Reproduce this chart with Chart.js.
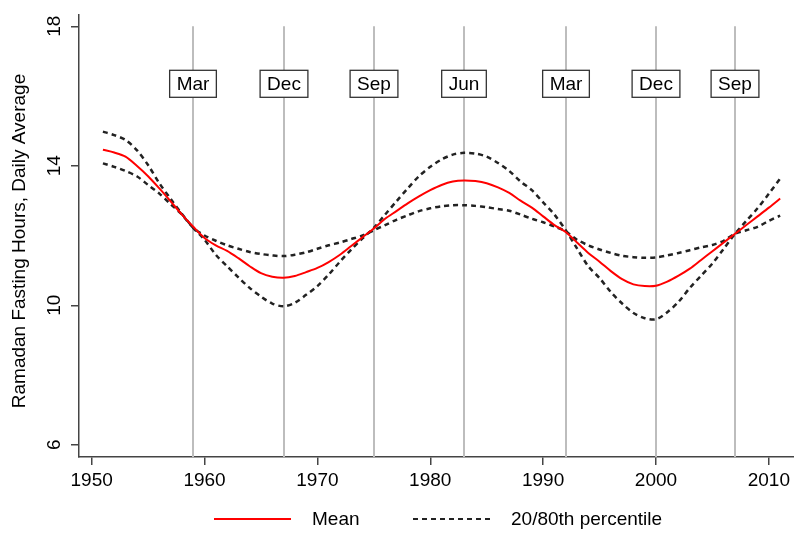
<!DOCTYPE html>
<html>
<head>
<meta charset="utf-8">
<script src="https://cdn.jsdelivr.net/npm/chart.js@4/dist/chart.umd.min.js"></script>
<style>
  html, body { margin: 0; padding: 0; background: #fff; }
  #c { display: block; }
</style>
</head>
<body>
<canvas id="c" width="794" height="533"></canvas>
<script>
// years of observation
const years = [1951, 1952, 1953, 1954, 1955, 1956, 1957, 1958, 1959, 1960,
  1961, 1962, 1963, 1964, 1965, 1966, 1967, 1968, 1969, 1970,
  1971, 1972, 1973, 1974, 1975, 1976, 1977, 1978, 1979, 1980,
  1981, 1982, 1983, 1984, 1985, 1986, 1987, 1988, 1989, 1990,
  1991, 1992, 1993, 1994, 1995, 1996, 1997, 1998, 1999, 2000,
  2001, 2002, 2003, 2004, 2005, 2006, 2007, 2008, 2009, 2010, 2011];

// mean fasting hours
const meanHours = [14.46, 14.38, 14.26, 14.0, 13.7, 13.35, 12.98, 12.6, 12.25, 11.93,
  11.72, 11.56, 11.35, 11.12, 10.92, 10.82, 10.79, 10.84, 10.95, 11.07,
  11.24, 11.45, 11.7, 11.95, 12.2, 12.48, 12.7, 12.92, 13.12, 13.3,
  13.45, 13.55, 13.58, 13.56, 13.5, 13.38, 13.22, 13.0, 12.8, 12.55,
  12.3, 12.1, 11.8, 11.5, 11.25, 10.98, 10.75, 10.6, 10.55, 10.56,
  10.68, 10.85, 11.05, 11.3, 11.55, 11.8, 12.05, 12.3, 12.55, 12.8, 13.06];

// 80th percentile
const p80Hours = [14.98, 14.88, 14.74, 14.45, 14.02, 13.5, 13.05, 12.62, 12.22, 11.88,
  11.45, 11.12, 10.8, 10.5, 10.25, 10.05, 9.97, 10.07, 10.3, 10.55,
  10.88, 11.25, 11.6, 11.92, 12.22, 12.6, 12.98, 13.35, 13.7, 13.97,
  14.18, 14.32, 14.37, 14.35, 14.26, 14.08, 13.85, 13.55, 13.3, 12.95,
  12.6, 12.15, 11.63, 11.12, 10.78, 10.38, 10.05, 9.78, 9.63, 9.6,
  9.8, 10.1, 10.5, 10.85, 11.2, 11.62, 12.05, 12.42, 12.78, 13.2, 13.63];

// 20th percentile
const p20Hours = [14.07, 13.97, 13.85, 13.7, 13.45, 13.2, 12.9, 12.6, 12.22, 12.0,
  11.85, 11.72, 11.62, 11.53, 11.47, 11.43, 11.41, 11.45, 11.52, 11.62,
  11.72, 11.8, 11.9, 12.0, 12.15, 12.3, 12.45, 12.58, 12.7, 12.78,
  12.84, 12.87, 12.87, 12.85, 12.81, 12.76, 12.71, 12.6, 12.48, 12.38,
  12.26, 12.12, 11.88, 11.72, 11.6, 11.5, 11.42, 11.38, 11.36, 11.37,
  11.43, 11.5, 11.58, 11.66, 11.73, 11.85, 12.05, 12.15, 12.25, 12.42, 12.57];

// month markers
const markerYears = [1959, 1967, 1975, 1983, 1992, 2000, 2007];
const markerLabels = ['Mar', 'Dec', 'Sep', 'Jun', 'Mar', 'Dec', 'Sep'];

const xTicks = [1950, 1960, 1970, 1980, 1990, 2000, 2010];
const yTicks = [6, 10, 14, 18];

const FONT = '"Liberation Sans", Arial, Helvetica, sans-serif';
const markerLineTop = 18;
const markerBoxAt = 16.35;

const toXY = (vals) => years.map((yr, i) => ({ x: yr, y: vals[i] }));

const overlay = {
  id: 'overlay',
  beforeDatasetsDraw(chart) {
    const { ctx, chartArea, scales } = chart;
    const x = scales.x, y = scales.y;
    ctx.save();
    ctx.strokeStyle = '#bdbdbd';
    ctx.lineWidth = 2;
    markerYears.forEach(yr => {
      const px = Math.round(x.getPixelForValue(yr));
      ctx.beginPath();
      ctx.moveTo(px, y.getPixelForValue(markerLineTop));
      ctx.lineTo(px, chartArea.bottom);
      ctx.stroke();
    });
    ctx.restore();
  },
  afterDraw(chart) {
    const { ctx, chartArea, scales } = chart;
    const x = scales.x, y = scales.y;
    ctx.save();
    // month boxes
    ctx.font = '19px ' + FONT;
    ctx.textAlign = 'center';
    ctx.textBaseline = 'middle';
    const by = y.getPixelForValue(markerBoxAt);
    markerYears.forEach((yr, i) => {
      const px = Math.round(x.getPixelForValue(yr));
      const w = ctx.measureText(markerLabels[i]).width + 14;
      const h = 27;
      ctx.fillStyle = '#fff';
      ctx.fillRect(px - w / 2, by - h / 2, w, h);
      ctx.strokeStyle = '#333';
      ctx.lineWidth = 1.3;
      ctx.strokeRect(px - w / 2, by - h / 2, w, h);
      ctx.fillStyle = '#000';
      ctx.fillText(markerLabels[i], px, by + 1);
    });

    // y tick labels, rotated
    yTicks.forEach(v => {
      ctx.save();
      ctx.translate(55, y.getPixelForValue(v));
      ctx.rotate(-Math.PI / 2);
      ctx.fillText(String(v), 0, 0);
      ctx.restore();
    });

    // y title
    ctx.save();
    ctx.translate(20, 241);
    ctx.rotate(-Math.PI / 2);
    ctx.fillText('Ramadan Fasting Hours, Daily Average', 0, 0);
    ctx.restore();

    // legend
    const ly = 519;
    ctx.textAlign = 'left';
    ctx.strokeStyle = '#ff0000';
    ctx.lineWidth = 2;
    ctx.beginPath();
    ctx.moveTo(214, ly);
    ctx.lineTo(291, ly);
    ctx.stroke();
    ctx.fillText(chart.data.datasets[0].label, 312, ly + 1);

    ctx.strokeStyle = '#222';
    ctx.setLineDash([5, 4]);
    ctx.beginPath();
    ctx.moveTo(413, ly);
    ctx.lineTo(491, ly);
    ctx.stroke();
    ctx.setLineDash([]);
    ctx.fillText('20/80th percentile', 511, ly + 1);
    ctx.restore();
  }
};

new Chart(document.getElementById('c'), {
  type: 'line',
  data: {
    datasets: [
      {
        label: 'Mean',
        data: toXY(meanHours),
        borderColor: '#ff0000',
        borderWidth: 2,
        pointRadius: 0,
        tension: 0.3,
        fill: false
      },
      {
        label: '80th percentile',
        data: toXY(p80Hours),
        borderColor: '#222',
        borderWidth: 2.5,
        borderDash: [5, 4],
        pointRadius: 0,
        tension: 0.3,
        fill: false
      },
      {
        label: '20th percentile',
        data: toXY(p20Hours),
        borderColor: '#222',
        borderWidth: 2.5,
        borderDash: [5, 4],
        pointRadius: 0,
        tension: 0.3,
        fill: false
      }
    ]
  },
  options: {
    responsive: false,
    animation: false,
    devicePixelRatio: 1,
    layout: { padding: { top: 10, right: 0, left: 0, bottom: 0 } },
    plugins: { legend: { display: false }, tooltip: { enabled: false } },
    scales: {
      x: {
        type: 'linear',
        min: 1948.88,
        max: 2012.2,
        afterBuildTicks: (s) => { s.ticks = xTicks.map(v => ({ value: v })); },
        afterFit: (s) => { s.height = 76; },
        grid: { drawOnChartArea: false, drawTicks: true, tickLength: 8, color: '#444', lineWidth: 1.5 },
        border: { display: true, color: '#444', width: 1.5 },
        ticks: {
          color: '#000',
          padding: 4,
          maxRotation: 0,
          font: { family: FONT, size: 19 },
          callback: (v) => String(v)
        }
      },
      y: {
        type: 'linear',
        min: 5.65,
        max: 18.34,
        afterBuildTicks: (s) => { s.ticks = yTicks.map(v => ({ value: v })); },
        afterFit: (s) => { s.width = 79; },
        grid: { drawOnChartArea: false, drawTicks: true, tickLength: 8, color: '#444', lineWidth: 1.5 },
        border: { display: true, color: '#444', width: 1.5 },
        ticks: { color: 'rgba(0,0,0,0)', font: { family: FONT, size: 19 } }
      }
    }
  },
  plugins: [overlay]
});
</script>
</body>
</html>
